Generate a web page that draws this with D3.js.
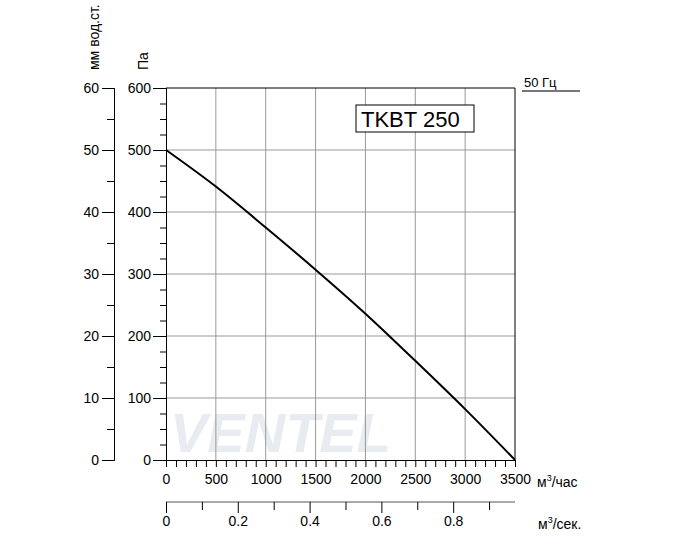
<!DOCTYPE html>
<html><head><meta charset="utf-8">
<script src="https://cdn.jsdelivr.net/npm/d3@7"></script>
<style>body{margin:0;background:#fff;font-family:Arial,"Liberation Sans",sans-serif;}</style>
</head><body><svg id="c" width="678" height="546"></svg>
<script>
const flow = [0, 500, 1000, 1500, 2000, 2500, 3000, 3500];
const pressure = [500, 441, 375, 307, 236, 160, 82, 0];
const xTicks = [0, 500, 1000, 1500, 2000, 2500, 3000, 3500];
const yTicks = [0, 100, 200, 300, 400, 500, 600];
const mmTicks = [0, 10, 20, 30, 40, 50, 60];
const secTicks = [0, 0.2, 0.4, 0.6, 0.8];

const svg = d3.select("#c");
const x = d3.scaleLinear().domain([0, 3500]).range([166, 515]);
const y = d3.scaleLinear().domain([0, 600]).range([460, 88]);
const ymm = d3.scaleLinear().domain([0, 60]).range([460, 88]);
const xs = d3.scaleLinear().domain([0, 3500 / 3600]).range([166, 515]);

// watermark
svg.append("text").attr("x", 170).attr("y", 452).attr("font-size", 56)
    .attr("font-style", "italic").attr("font-weight", "bold")
    .attr("fill", "#e8ecf0").text("VENTEL");

// grid
svg.append("g").selectAll("line").data(xTicks.slice(1, -1)).join("line")
    .attr("x1", d => x(d)).attr("x2", d => x(d)).attr("y1", 88).attr("y2", 460)
    .attr("stroke", "#999");
svg.append("g").selectAll("line").data(yTicks.slice(1, -1)).join("line")
    .attr("x1", 166).attr("x2", 515).attr("y1", d => y(d)).attr("y2", d => y(d))
    .attr("stroke", "#999");
svg.append("path").attr("d", "M166,88H515V460").attr("fill", "none").attr("stroke", "#000");

// Pa axis
const pa = svg.append("g").attr("transform", "translate(166,0)")
    .call(d3.axisLeft(y).tickValues(yTicks).tickSize(13).tickSizeOuter(0));
pa.append("g").call(d3.axisLeft(y).tickValues(d3.range(0, 600, 25).filter(v => v % 100)).tickSize(6).tickFormat(""));
// mm axis
const mm = svg.append("g").attr("transform", "translate(114,0)")
    .call(d3.axisLeft(ymm).tickValues(mmTicks).tickSize(12).tickSizeOuter(0));
mm.append("g").call(d3.axisLeft(ymm).tickValues(d3.range(5, 60, 10)).tickSize(7).tickFormat(""));

// x axis m3/h
const xa = svg.append("g").attr("transform", "translate(0,460)")
    .call(d3.axisBottom(x).tickValues(d3.range(0, 3501, 100)).tickSize(7).tickSizeOuter(0)
        .tickFormat(d => xTicks.includes(d) ? d : ""));
// x axis m3/s
const sa = svg.append("g").attr("transform", "translate(0,502)")
    .call(d3.axisBottom(xs).tickValues(d3.range(0, 0.95, 0.1)).tickSize(8).tickSizeOuter(0)
        .tickFormat(d => secTicks.some(s => Math.abs(s - d) < 1e-6) ? d3.format(".1~f")(d) : ""));
sa.selectAll(".tick").filter(d => Math.round(d * 10) % 2 === 0).select("line").attr("y2", 11);
sa.select(".domain").attr("d", "M166,0H515");

svg.selectAll(".tick text").attr("font-size", 14).attr("fill", "#000")
    .attr("font-family", "Arial,'Liberation Sans',sans-serif");
pa.selectAll(".tick text").attr("x", -15);
xa.selectAll(".tick text").attr("y", 14);
sa.selectAll(".tick text").attr("y", 14);
svg.selectAll(".domain, .tick line").attr("stroke", "#000");
sa.select(".domain").attr("stroke", "#555");

// curve
svg.append("path").datum(flow.map((f, i) => [f, pressure[i]]))
    .attr("d", d3.line().x(d => x(d[0])).y(d => y(d[1])).curve(d3.curveMonotoneX))
    .attr("fill", "none").attr("stroke", "#000").attr("stroke-width", 2);

// labels
const t = (xx, yy, s, opts = {}) => svg.append("text").attr("x", xx).attr("y", yy)
    .attr("font-size", opts.size || 14).attr("text-anchor", opts.anchor || "start")
    .attr("transform", opts.rot ? `rotate(-90,${xx},${yy})` : null).text(s);
t(99, 70, "мм вод.ст.", { rot: true, anchor: "start" });
t(148, 70, "Па", { rot: true });
svg.append("text").attr("x", 537).attr("y", 487).attr("font-size", 14).html('м<tspan dy="-6" font-size="9">3</tspan><tspan dy="6">/час</tspan>');
svg.append("text").attr("x", 538).attr("y", 529).attr("font-size", 14).html('м<tspan dy="-6" font-size="9">3</tspan><tspan dy="6">/сек.</tspan>');
t(524, 87, "50 Гц", { size: 13 });
svg.append("line").attr("x1", 522).attr("x2", 580).attr("y1", 91).attr("y2", 91).attr("stroke", "#777").attr("stroke-width", 2);
svg.append("rect").attr("x", 356).attr("y", 105).attr("width", 118).attr("height", 27)
    .attr("fill", "#fff").attr("stroke", "#000");
t(361, 127, "TKBT 250", { size: 22 });
</script></body></html>
